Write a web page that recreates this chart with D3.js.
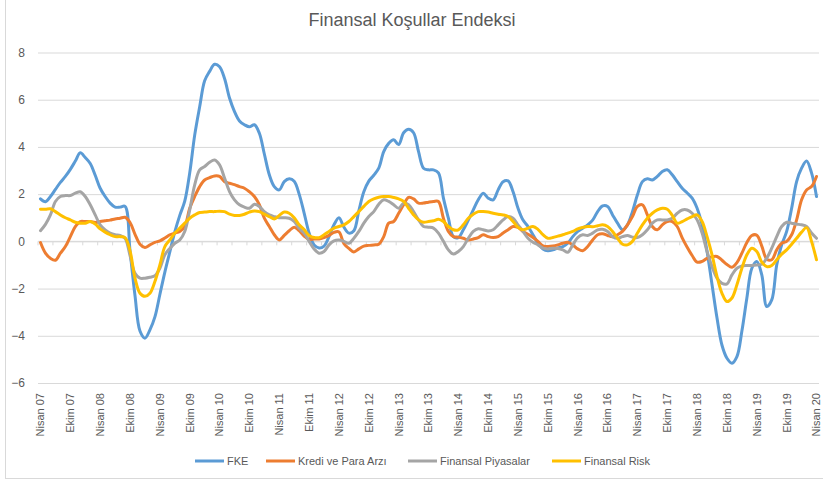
<!DOCTYPE html>
<html lang="tr">
<head>
  <meta charset="UTF-8">
  <title>Finansal Koşullar Endeksi</title>
  <script src="https://d3js.org/d3.v7.min.js"></script>
  <style>
    body { margin: 0; background: #fff; font-family: "Liberation Sans", Arial, sans-serif; }
    svg { display: block; }
    text { fill: #595959; }
    .grid line { stroke: #d9d9d9; stroke-width: 1px; }
    .grid .domain { display: none; }
  </style>
</head>
<body>
  <svg id="chart" width="823" height="481"></svg>

  <script>
    // half-year labels, one every 6 months starting April 2007
    const tickLabels = ["Nisan 07", "Ekim 07", "Nisan 08", "Ekim 08", "Nisan 09", "Ekim 09",
      "Nisan 10", "Ekim 10", "Nisan 11", "Ekim 11", "Nisan 12", "Ekim 12", "Nisan 13", "Ekim 13",
      "Nisan 14", "Ekim 14", "Nisan 15", "Ekim 15", "Nisan 16", "Ekim 16", "Nisan 17", "Ekim 17",
      "Nisan 18", "Ekim 18", "Nisan 19", "Ekim 19", "Nisan 20"];
    const yTicks = [-6, -4, -2, 0, 2, 4, 6, 8];

    // monthly values, Apr 2007 - Apr 2020
    const fke = [
      1.8, 1.68, 1.9, 2.2, 2.5, 2.75, 3.05, 3.4, 3.75, 3.55,
      3.3, 2.8, 2.25, 1.9, 1.62, 1.45, 1.45, 1.48, -0.4, -2.3,
      -3.8, -4.1, -3.75, -3.2, -2.25, -1.3, -0.45, 0.4, 1.1, 1.7,
      2.9, 4.5, 5.7, 6.8, 7.2, 7.5, 7.4, 6.9, 6.07, 5.5,
      5.1, 4.94, 4.85, 4.94, 4.58, 3.7, 2.82, 2.32, 2.18, 2.53,
      2.65, 2.55, 2.0, 1.2, 0.35, -0.15, -0.28, -0.2, 0.2, 0.7,
      1.0, 0.6, 0.35, 0.45, 1.3, 2.1, 2.55, 2.8, 3.1, 3.8,
      4.15, 4.3, 4.1, 4.6, 4.75, 4.6, 3.8, 3.1, 3.03, 3.03,
      2.9, 1.83, 0.98, 0.2, 0.16, 0.49, 0.9, 1.33, 1.76, 2.04,
      1.83, 1.76, 2.18, 2.53, 2.56, 2.1, 1.4, 0.9, 0.63, 0.28,
      -0.08, -0.32, -0.4, -0.36, -0.28, -0.22, -0.08, 0.2, 0.42, 0.56,
      0.7, 0.9, 1.26, 1.5, 1.48, 1.12, 0.77, 0.49, 0.7, 1.26,
      1.97, 2.53, 2.65, 2.6, 2.75, 2.96, 3.03, 2.82, 2.53, 2.25,
      2.05, 1.83, 1.4, 0.7, -0.43, -1.84, -3.25, -4.4, -4.95, -5.16,
      -4.88, -3.8, -2.4, -1.14, -0.85, -1.42, -2.76, -2.48, -1.0, -0.15,
      0.42, 1.4, 2.53, 3.1, 3.4, 2.9, 1.9
    ];
    const krediPara = [
      -0.05, -0.5, -0.72, -0.8, -0.5, -0.22, 0.2, 0.62, 0.84, 0.84,
      0.84, 0.8, 0.84, 0.87, 0.9, 0.95, 0.98, 1.02, 0.8, 0.3,
      -0.12, -0.26, -0.15, -0.04, 0.02, 0.14, 0.28, 0.35, 0.42, 0.63,
      1.4, 1.9, 2.32, 2.6, 2.7, 2.77, 2.75, 2.53, 2.46, 2.4,
      2.32, 2.25, 2.1, 1.9, 1.55, 0.98, 0.63, 0.28, 0.06, 0.25,
      0.45, 0.6, 0.45, 0.22, 0.08, 0.1, 0.1, 0.16, 0.25, 0.38,
      0.4, -0.1, -0.3, -0.45, -0.32, -0.2, -0.17, -0.15, -0.12, 0.2,
      0.77, 0.84, 1.19, 1.55, 1.86, 1.8, 1.62, 1.62, 1.66, 1.69,
      1.69, 0.98, 0.42, 0.2, 0.18, 0.13, 0.06, 0.1, 0.16, 0.28,
      0.2, 0.16, 0.2, 0.35, 0.49, 0.63, 0.59, 0.42, 0.3, 0.16,
      0.0, -0.19, -0.22, -0.2, -0.15, -0.08, -0.04, -0.15, -0.32, -0.4,
      -0.22, 0.06, 0.28, 0.32, 0.25, 0.2, 0.28, 0.42, 0.7, 1.05,
      1.48, 1.55, 1.12, 0.63, 0.49, 0.7, 0.84, 0.84, 0.63, 0.15,
      -0.25, -0.6, -0.88, -0.85, -0.72, -0.65, -0.64, -0.8, -0.98, -1.1,
      -0.9, -0.5, -0.05, 0.25, 0.26, -0.2, -0.75, -0.78, -0.36, -0.08,
      0.0, 0.28, 0.91, 1.76, 2.18, 2.32, 2.75
    ];
    const piyasalar = [
      0.45, 0.72, 1.12, 1.69, 1.9, 1.94, 1.94, 2.04, 2.1, 1.9,
      1.55, 1.12, 0.7, 0.49, 0.35, 0.28, 0.25, 0.13, -0.6, -1.35,
      -1.56, -1.56, -1.52, -1.46, -1.14, -0.57, -0.3, -0.08, 0.06, 0.42,
      1.33, 2.39, 3.03, 3.17, 3.35, 3.45, 3.24, 2.68, 2.11, 1.76,
      1.55, 1.45, 1.4, 1.57, 1.48, 1.26, 1.12, 1.05, 1.0, 1.0,
      0.98, 0.84, 0.55, 0.35, 0.0, -0.32, -0.5, -0.43, -0.15, 0.02,
      0.06, 0.0, -0.08, 0.13, 0.42, 0.77, 1.05, 1.26, 1.57, 1.76,
      1.69, 1.55, 1.4, 1.62, 1.55, 1.26, 0.91, 0.63, 0.6, 0.56,
      0.35, 0.0, -0.36, -0.54, -0.43, -0.22, 0.13, 0.42, 0.53, 0.49,
      0.44, 0.49, 0.7, 0.91, 1.05, 0.98, 0.7, 0.42, 0.13, -0.04,
      -0.15, -0.29, -0.32, -0.29, -0.3, -0.36, -0.46, -0.15, 0.16, 0.28,
      0.25, 0.35, 0.49, 0.51, 0.42, 0.2, 0.13, 0.2, 0.25, 0.18,
      0.16, 0.28, 0.49, 0.77, 0.91, 0.91, 0.91, 0.98, 1.19, 1.33,
      1.33, 1.19, 0.91, 0.35, -0.43, -1.07, -1.56, -1.78, -1.8, -1.42,
      -1.14, -1.04, -1.02, -1.02, -1.0, -0.97, -0.71, -0.29, 0.2, 0.63,
      0.81, 0.77, 0.73, 0.7, 0.63, 0.35, 0.13
    ];
    const finansalRisk = [
      1.36, 1.36, 1.38, 1.26, 1.12, 1.0, 0.91, 0.81, 0.77, 0.77,
      0.84, 0.73, 0.53, 0.39, 0.28, 0.2, 0.2, 0.16, -0.4, -1.56,
      -2.2, -2.33, -2.2, -1.7, -1.0, -0.22, 0.06, 0.35, 0.56, 0.77,
      0.98, 1.12, 1.22, 1.24, 1.26, 1.26, 1.28, 1.26, 1.15, 1.1,
      1.1, 1.15, 1.24, 1.29, 1.26, 1.15, 1.05, 0.95, 1.1, 1.24,
      1.19, 1.0, 0.7, 0.5, 0.25, 0.16, 0.16, 0.28, 0.42, 0.56,
      0.63, 0.7, 0.84, 1.05, 1.26, 1.48, 1.69, 1.8, 1.87, 1.9,
      1.9, 1.86, 1.8, 1.69, 1.4, 1.12, 0.91, 0.81, 0.84, 0.87,
      0.94, 0.84, 0.63, 0.49, 0.49, 0.7, 0.98, 1.15, 1.26, 1.26,
      1.24, 1.19, 1.15, 1.12, 1.05, 0.84, 0.59, 0.49, 0.56, 0.63,
      0.51, 0.28, 0.13, 0.16, 0.22, 0.28, 0.35, 0.42, 0.53, 0.59,
      0.63, 0.62, 0.66, 0.7, 0.63, 0.42, 0.13, -0.12, -0.15, 0.0,
      0.35, 0.7, 0.98, 1.19, 1.33, 1.4, 1.36, 1.1, 0.77, 0.84,
      0.95, 1.05, 1.12, 0.84, 0.2, -0.57, -1.49, -2.2, -2.55, -2.4,
      -1.84, -1.14, -0.57, -0.29, -0.43, -0.88, -1.07, -1.02, -0.78, -0.54,
      -0.36, -0.12, 0.13, 0.39, 0.58, 0.0, -0.78
    ];

    const series = [
      { name: "FKE", values: fke, color: "#5b9bd5" },
      { name: "Kredi ve Para Arzı", values: krediPara, color: "#ed7d31" },
      { name: "Finansal Piyasalar", values: piyasalar, color: "#a5a5a5" },
      { name: "Finansal Risk", values: finansalRisk, color: "#ffc000" }
    ];

    const width = 823, height = 481;
    const plotLeft = 38, plotRight = 819, plotTop = 52.5, plotBottom = 383;
    const svg = d3.select("#chart");

    // chart border
    svg.append("rect")
      .attr("x", 5.5).attr("y", -1)
      .attr("width", width - 5).attr("height", 479.5)
      .attr("fill", "none").attr("stroke", "#d9d9d9");

    svg.append("text")
      .attr("x", 412).attr("y", 26)
      .attr("text-anchor", "middle")
      .style("font-size", "18px")
      .text("Finansal Koşullar Endeksi");

    const n = fke.length;
    const x = d3.scaleLinear().domain([-0.5, n - 0.5]).range([plotLeft, plotRight]);
    const y = d3.scaleLinear().domain([-6, 8]).range([plotBottom, plotTop]);

    // horizontal gridlines + y labels
    const yAxis = svg.append("g")
      .attr("class", "grid")
      .attr("transform", `translate(${plotLeft},0)`)
      .call(d3.axisLeft(y).tickValues(yTicks).tickSizeInner(-(plotRight - plotLeft)).tickSizeOuter(0).tickPadding(13));
    yAxis.selectAll("text").style("font-size", "12px").attr("fill", "#595959");

    // category axis sits on zero, small ticks every 3 months
    const y0 = y(0);
    svg.append("line")
      .attr("x1", plotLeft).attr("x2", plotRight).attr("y1", y0).attr("y2", y0)
      .attr("stroke", "#d9d9d9");
    svg.append("g").selectAll("line")
      .data(d3.range(0, n / 3))
      .join("line")
      .attr("x1", j => x(j * 3 - 0.5)).attr("x2", j => x(j * 3 - 0.5))
      .attr("y1", y0).attr("y2", y0 + 4)
      .attr("stroke", "#d9d9d9");

    // rotated month labels under the plot
    svg.append("g").selectAll("text")
      .data(tickLabels)
      .join("text")
      .attr("transform", (d, k) => `translate(${x(k * 6)},393) rotate(-90)`)
      .attr("dy", "0.35em")
      .attr("text-anchor", "end")
      .style("font-size", "11px")
      .text(d => d);

    const line = d3.line()
      .x((d, i) => x(i))
      .y(d => y(d))
      .curve(d3.curveCatmullRom.alpha(0.5));

    svg.append("g").selectAll("path")
      .data(series)
      .join("path")
      .attr("d", d => line(d.values))
      .attr("fill", "none")
      .attr("stroke", d => d.color)
      .attr("stroke-width", 3)
      .attr("stroke-linejoin", "round")
      .attr("stroke-linecap", "round");

    // legend
    const legendX = [195, 266, 408, 552];
    const legend = svg.append("g").selectAll("g")
      .data(series)
      .join("g")
      .attr("transform", (d, i) => `translate(${legendX[i]},461)`);
    legend.append("line")
      .attr("x1", 0).attr("x2", 29)
      .attr("stroke", d => d.color)
      .attr("stroke-width", 3);
    legend.append("text")
      .attr("x", 32).attr("dy", "0.35em")
      .style("font-size", "11px")
      .text(d => d.name);
  </script>
</body>
</html>
